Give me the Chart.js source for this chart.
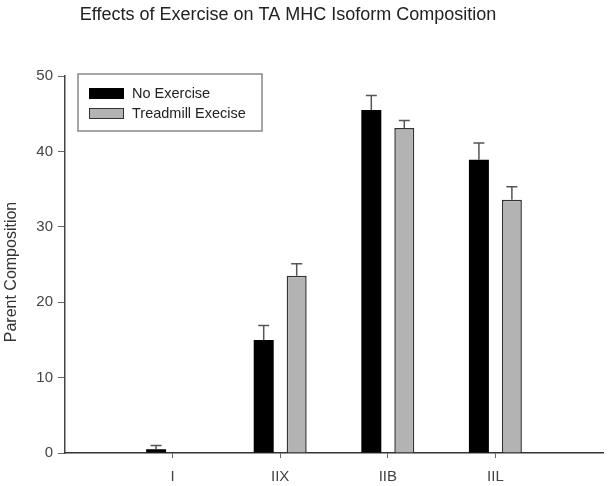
<!DOCTYPE html>
<html>
<head>
<meta charset="utf-8">
<script src="https://cdn.jsdelivr.net/npm/chart.js@4/dist/chart.umd.min.js"></script>
<style>
  html, body { margin: 0; padding: 0; background: #fff; }
</style>
</head>
<body>
<canvas id="chart" width="608" height="486"></canvas>
<script>
// padded with blanks so the axis runs half a category past each end, like the original
const categories = ["", "I", "IIX", "IIB", "IIL", ""];
const noExercise = [null, 0.5, 15.0, 45.5, 38.9, null];
const noExerciseErr = [null, 0.5, 1.9, 1.9, 2.2, null];
const treadmill = [null, 0, 23.5, 43.1, 33.6, null];
const treadmillErr = [null, 0, 1.6, 1.0, 1.7, null];
const yTicks = [0, 10, 20, 30, 40, 50];

const FONT = "'Liberation Sans', Arial, sans-serif";

// upward-only error bars, like the sigmaplot original
const errorBars = {
  id: "errorBars",
  afterDatasetsDraw(chart) {
    const { ctx, scales } = chart;
    ctx.save();
    ctx.strokeStyle = "#555";
    ctx.lineWidth = 1.5;
    chart.data.datasets.forEach((ds, di) => {
      const meta = chart.getDatasetMeta(di);
      meta.data.forEach((bar, i) => {
        const v = ds.data[i];
        const e = ds.errors[i];
        if (v == null || !e) return;
        const x = bar.x;
        const y0 = scales.y.getPixelForValue(v);
        const y1 = scales.y.getPixelForValue(v + e);
        ctx.beginPath();
        ctx.moveTo(x, y0);
        ctx.lineTo(x, y1);
        ctx.moveTo(x - 5.5, y1);
        ctx.lineTo(x + 5.5, y1);
        ctx.stroke();
      });
    });
    ctx.restore();
  },
};

// boxed legend inside the plot, plus title and y label
const extras = {
  id: "extras",
  afterDraw(chart) {
    const { ctx } = chart;
    ctx.save();
    ctx.fillStyle = "#222";
    ctx.font = "18px " + FONT;
    ctx.textAlign = "center";
    ctx.textBaseline = "middle";
    ctx.fillText("Effects of Exercise on TA MHC Isoform Composition", 288, 15);

    ctx.save();
    ctx.translate(12, 272);
    ctx.rotate(-Math.PI / 2);
    ctx.font = "16px " + FONT;
    ctx.fillStyle = "#333";
    ctx.fillText("Parent Composition", 0, 0);
    ctx.restore();

    // legend
    ctx.fillStyle = "#fff";
    ctx.fillRect(78, 74, 184, 57);
    ctx.strokeStyle = "#888";
    ctx.lineWidth = 1.5;
    ctx.strokeRect(78, 74, 184, 57);
    ctx.textAlign = "left";
    ctx.font = "14.5px " + FONT;
    chart.data.datasets.forEach((ds, i) => {
      const y = 88 + i * 20;
      ctx.fillStyle = ds.backgroundColor;
      ctx.fillRect(89, y, 35, 11);
      ctx.strokeStyle = ds.borderColor;
      ctx.lineWidth = 1;
      ctx.strokeRect(89.5, y + 0.5, 34, 10);
      ctx.fillStyle = "#222";
      ctx.fillText(ds.label, 132, y + 6);
    });
    ctx.restore();
  },
};

new Chart(document.getElementById("chart"), {
  type: "bar",
  data: {
    labels: categories,
    datasets: [
      {
        label: "No Exercise",
        data: noExercise,
        errors: noExerciseErr,
        backgroundColor: "#000",
        borderColor: "#000",
        borderWidth: 0,
        categoryPercentage: 0.613,
        barPercentage: 0.606,
      },
      {
        label: "Treadmill Execise",
        data: treadmill,
        errors: treadmillErr,
        backgroundColor: "#b3b3b3",
        borderColor: "#333",
        borderWidth: 1.5,
        categoryPercentage: 0.613,
        barPercentage: 0.606,
      },
    ],
  },
  options: {
    responsive: false,
    animation: false,
    layout: { padding: { top: 76, right: 5, left: 0, bottom: 0 } },
    plugins: {
      legend: { display: false },
      title: { display: false },
      tooltip: { enabled: false },
    },
    scales: {
      x: {
        offset: false,
        afterFit(scale) {
          scale.height = 33;
          scale.paddingLeft = 0;
          scale.paddingRight = 0;
        },
        border: { color: "#333", width: 1.5 },
        grid: {
          offset: false,
          drawOnChartArea: false,
          tickLength: 5,
          tickColor: (c) => (c.index === 0 || c.index === categories.length - 1 ? "transparent" : "#666"),
        },
        ticks: { color: "#444", font: { family: FONT, size: 15 }, padding: 10, maxRotation: 0, autoSkip: false },
      },
      y: {
        min: yTicks[0],
        max: yTicks[yTicks.length - 1],
        afterFit(scale) { scale.width = 65; },
        afterBuildTicks(scale) { scale.ticks = yTicks.map((v) => ({ value: v })); },
        border: { color: "#444", width: 1.5 },
        grid: { drawOnChartArea: false, tickLength: 7, tickColor: "#666" },
        ticks: { color: "#444", font: { family: FONT, size: 15 }, padding: 5 },
      },
    },
  },
  plugins: [errorBars, extras],
});
</script>
</body>
</html>
